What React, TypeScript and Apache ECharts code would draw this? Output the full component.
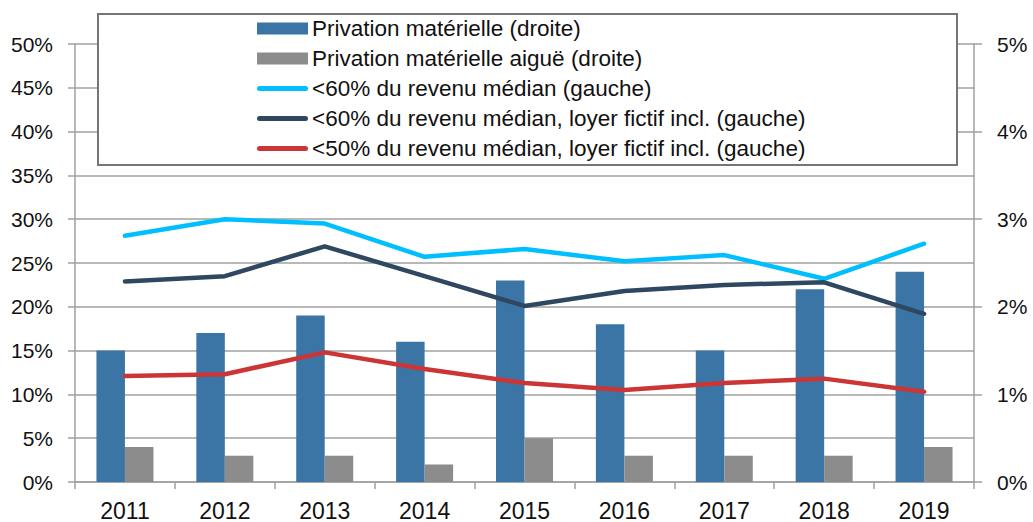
import React, { useEffect, useRef } from "react";
import * as echarts from "echarts";

const years = ["2011", "2012", "2013", "2014", "2015", "2016", "2017", "2018", "2019"];
const privation = [1.5, 1.7, 1.9, 1.6, 2.3, 1.8, 1.5, 2.2, 2.4];
const privationAigue = [0.4, 0.3, 0.3, 0.2, 0.5, 0.3, 0.3, 0.3, 0.4];
const revenu60 = [28.1, 30.0, 29.5, 25.7, 26.6, 25.2, 25.9, 23.2, 27.2];
const revenu60Loyer = [22.9, 23.5, 26.9, 23.5, 20.1, 21.8, 22.5, 22.8, 19.2];
const revenu50Loyer = [12.1, 12.3, 14.8, 12.9, 11.3, 10.5, 11.3, 11.8, 10.3];

const names = [
  "Privation matérielle (droite)",
  "Privation matérielle aiguë (droite)",
  "<60% du revenu médian (gauche)",
  "<60% du revenu médian, loyer fictif incl. (gauche)",
  "<50% du revenu médian, loyer fictif incl. (gauche)",
];

const FONT = "Liberation Sans";
const AXIS = "#A0A0A0";
const LINE_ICON = "path://M2.5,0 L48.5,0 A2.5,2.5 0 0 1 48.5,5 L2.5,5 A2.5,2.5 0 0 1 2.5,0 Z";

export default function App() {
  const ref = useRef<HTMLDivElement>(null);
  useEffect(() => {
    if (!ref.current) return;
    const chart = echarts.init(ref.current, undefined, { renderer: "svg" });
    const lineSeries = (name: string, data: number[], color: string) => ({
      name,
      type: "line",
      yAxisIndex: 0,
      data,
      symbol: "none",
      z: 3,
      lineStyle: { color, width: 4.5, cap: "round" },
      itemStyle: { color },
    });
    chart.setOption({
      animation: false,
      textStyle: { fontFamily: FONT },
      grid: { left: 75, right: 59, top: 44, bottom: 39 },
      graphic: [
        {
          type: "rect",
          z: 3,
          shape: { x: 98, y: 14, width: 859, height: 151 },
          style: { fill: "#fff", stroke: "#767676", lineWidth: 2 },
        },
      ],
      legend: {
        orient: "vertical",
        left: 257,
        top: 17,
        z: 5,
        itemWidth: 51,
        itemHeight: 12,
        itemGap: 7,
        padding: 0,
        symbolKeepAspect: true,
        textStyle: { fontFamily: FONT, fontSize: 22.5, color: "#111", lineHeight: 20, padding: [0, 0, 0, -1] },
        data: [
          { name: names[0], icon: "rect" },
          { name: names[1], icon: "rect" },
          { name: names[2], icon: LINE_ICON },
          { name: names[3], icon: LINE_ICON },
          { name: names[4], icon: LINE_ICON },
        ],
      },
      xAxis: {
        type: "category",
        data: years,
        axisLine: { lineStyle: { color: AXIS, width: 1.5 } },
        axisTick: { show: true, length: 7, lineStyle: { color: AXIS, width: 1.5 } },
        axisLabel: { color: "#111", fontSize: 23, margin: 17, fontFamily: FONT },
      },
      yAxis: [
        {
          type: "value",
          min: 0,
          max: 50,
          interval: 5,
          axisLine: { show: true, lineStyle: { color: AXIS, width: 1.5 } },
          axisTick: { show: true, length: 7, lineStyle: { color: AXIS, width: 1.5 } },
          axisLabel: { color: "#111", fontSize: 21, margin: 22, formatter: "{value}%", fontFamily: FONT },
          splitLine: { show: true, lineStyle: { color: AXIS, width: 1.5 } },
        },
        {
          type: "value",
          min: 0,
          max: 5,
          interval: 1,
          position: "right",
          axisLine: { show: true, lineStyle: { color: AXIS, width: 1.5 } },
          axisTick: { show: true, length: 8, lineStyle: { color: AXIS, width: 1.5 } },
          axisLabel: { color: "#111", fontSize: 21, margin: 23, formatter: "{value}%", fontFamily: FONT },
          splitLine: { show: false },
        },
      ],
      series: [
        {
          name: names[0],
          type: "bar",
          yAxisIndex: 1,
          data: privation,
          barWidth: 28.5,
          barGap: "0%",
          itemStyle: { color: "#3A75A6" },
        },
        {
          name: names[1],
          type: "bar",
          yAxisIndex: 1,
          data: privationAigue,
          barWidth: 28.5,
          barGap: "0%",
          itemStyle: { color: "#8C8C8C" },
        },
        lineSeries(names[2], revenu60, "#00BFFF"),
        lineSeries(names[3], revenu60Loyer, "#2F4760"),
        lineSeries(names[4], revenu50Loyer, "#CC3535"),
      ],
    });
    return () => chart.dispose();
  }, []);
  return (
    <div
      ref={ref}
      style={{ position: "fixed", left: 0, top: 0, width: 1033, height: 522, background: "#fff" }}
    />
  );
}
